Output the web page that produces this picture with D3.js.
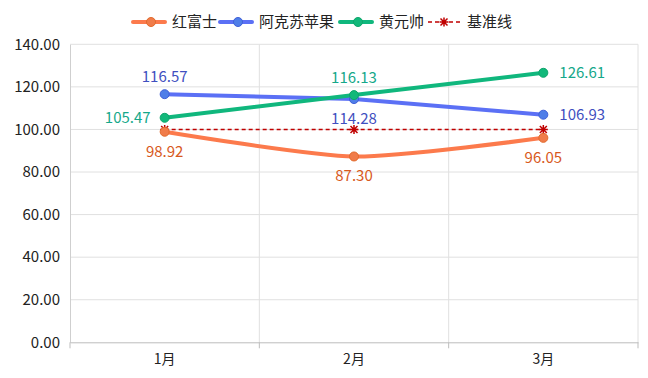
<!DOCTYPE html>
<html>
<head>
<meta charset="utf-8">
<script src="https://d3js.org/d3.v7.min.js"></script>
<style>
  body { margin: 0; background: #fff; }
  text { font-family: "Microsoft YaHei", "Noto Sans CJK SC", sans-serif; }
</style>
</head>
<body>
<svg width="648" height="378"></svg>
<script>
var months = ["1月", "2月", "3月"];
var fuji = [98.92, 87.30, 96.05];
var aksu = [116.57, 114.28, 106.93];
var huang = [105.47, 116.13, 126.61];
var base = [100, 100, 100];
var yTicks = [0, 20, 40, 60, 80, 100, 120, 140];

var series = [
  { name: "红富士", values: fuji, color: "#fc7a4c", dot: "#f07c4a", stroke: "#e26a2c", text: "#d8591c", smooth: true, pos: ["below", "below", "below"] },
  { name: "阿克苏苹果", values: aksu, color: "#5b70f5", dot: "#4f7ee8", stroke: "#3f5fd8", text: "#3f4fc0", smooth: false, pos: ["above", "below", "right"] },
  { name: "黄元帅", values: huang, color: "#10b77d", dot: "#12b87a", stroke: "#0ea56c", text: "#15a88a", smooth: false, pos: ["left", "above", "right"] }
];

var svg = d3.select("svg");
var margin = { top: 44, left: 70, right: 10, bottom: 36 };
var W = 648, H = 378;

var x = d3.scaleBand().domain(months).range([margin.left, W - margin.right]);
var y = d3.scaleLinear().domain([0, 140]).range([342.3, 44.3]);
var cx = function(i) { return x(months[i]) + x.bandwidth() / 2; };

// grid
svg.append("g").selectAll("line.h").data(yTicks.slice(1)).enter().append("line")
  .attr("x1", margin.left).attr("x2", W - margin.right)
  .attr("y1", d => y(d)).attr("y2", d => y(d))
  .attr("stroke", "#e0e0e0");
svg.append("g").selectAll("line.v").data(months).enter().append("line")
  .attr("x1", d => x(d) + x.bandwidth()).attr("x2", d => x(d) + x.bandwidth())
  .attr("y1", y(140)).attr("y2", y(0))
  .attr("stroke", "#e0e0e0");

// axes
var yAxis = svg.append("g").attr("transform", "translate(" + margin.left + ",0)")
  .call(d3.axisLeft(y).tickValues(yTicks).tickFormat(d3.format(".2f")).tickSize(0).tickPadding(10));
yAxis.select(".domain").attr("stroke", "#cfcfcf");
yAxis.selectAll("text").attr("font-size", 15).attr("fill", "#222");

var xAxis = svg.append("g").attr("transform", "translate(0," + y(0) + ")")
  .call(d3.axisBottom(x).tickSize(0).tickPadding(12));
xAxis.select(".domain").attr("stroke", "#bdbdbd");
xAxis.selectAll("text").attr("font-size", 14).attr("fill", "#222");
xAxis.selectAll(".sep").data([0].concat(months.map(d => x(d) + x.bandwidth()))).enter().append("line")
  .attr("x1", (d, i) => i === 0 ? margin.left : d).attr("x2", (d, i) => i === 0 ? margin.left : d)
  .attr("y1", 0).attr("y2", 6).attr("stroke", "#bdbdbd");

// baseline series
var baseLine = d3.line().x((d, i) => cx(i)).y(d => y(d));
svg.append("path").attr("d", baseLine(base)).attr("fill", "none")
  .attr("stroke", "#c00000").attr("stroke-width", 1.5).attr("stroke-dasharray", "4,3");
function star(g, px, py, s) {
  g.append("path")
    .attr("d", "M" + (px - s) + "," + (py - s) + "L" + (px + s) + "," + (py + s) +
      "M" + (px - s) + "," + (py + s) + "L" + (px + s) + "," + (py - s) +
      "M" + px + "," + (py - s - 1) + "L" + px + "," + (py + s + 1) +
      "M" + (px - s - 1) + "," + py + "L" + (px + s + 1) + "," + py)
    .attr("stroke", "#c00000").attr("stroke-width", 1.5);
}

// series lines
series.forEach(function(s) {
  var line = d3.line().x((d, i) => cx(i)).y(d => y(d))
    .curve(s.smooth ? d3.curveCardinal.tension(0.3) : d3.curveLinear);
  svg.append("path").attr("d", line(s.values)).attr("fill", "none")
    .attr("stroke", s.color).attr("stroke-width", 4).attr("stroke-linecap", "round");
});
base.forEach(function(v, i) { star(svg, cx(i), y(v), 3.5); });
series.forEach(function(s) {
  s.values.forEach(function(v, i) {
    svg.append("circle").attr("cx", cx(i)).attr("cy", y(v)).attr("r", 4.5)
      .attr("fill", s.dot).attr("stroke", s.stroke).attr("stroke-width", 1);
  });
});

// labels
series.forEach(function(s) {
  s.values.forEach(function(v, i) {
    var px = cx(i), py = y(v), p = s.pos[i];
    var t = svg.append("text").text(v.toFixed(2)).attr("font-size", 15).attr("fill", s.text);
    if (p === "above") t.attr("x", px).attr("y", py - 12).attr("text-anchor", "middle");
    else if (p === "below") t.attr("x", px).attr("y", py + 25).attr("text-anchor", "middle");
    else if (p === "left") t.attr("x", px - 14).attr("y", py + 5).attr("text-anchor", "end");
    else t.attr("x", px + 16).attr("y", py + 5).attr("text-anchor", "start");
  });
});

// legend
var legendItems = [
  { name: "红富士", x: 133, color: "#fc7a4c", dot: "#f07c4a", stroke: "#e26a2c" },
  { name: "阿克苏苹果", x: 220, color: "#5b70f5", dot: "#4f7ee8", stroke: "#3f5fd8" },
  { name: "黄元帅", x: 340, color: "#10b77d", dot: "#12b87a", stroke: "#0ea56c" },
  { name: "基准线", x: 428, color: "#c00000", dash: true }
];
var lg = svg.append("g");
legendItems.forEach(function(d) {
  var ly = 22;
  if (d.dash) {
    lg.append("line").attr("x1", d.x).attr("x2", d.x + 32).attr("y1", ly).attr("y2", ly)
      .attr("stroke", d.color).attr("stroke-width", 1.5).attr("stroke-dasharray", "4,3");
    star(lg, d.x + 16, ly, 3.5);
    lg.append("text").attr("x", d.x + 39).attr("y", ly + 5).attr("font-size", 15).attr("fill", "#222").text(d.name);
  } else {
    lg.append("line").attr("x1", d.x).attr("x2", d.x + 32).attr("y1", ly).attr("y2", ly)
      .attr("stroke", d.color).attr("stroke-width", 4).attr("stroke-linecap", "round");
    lg.append("circle").attr("cx", d.x + 18).attr("cy", ly).attr("r", 4.5)
      .attr("fill", d.dot).attr("stroke", d.stroke);
    lg.append("text").attr("x", d.x + 39).attr("y", ly + 5).attr("font-size", 15).attr("fill", "#222").text(d.name);
  }
});
</script>
</body>
</html>
